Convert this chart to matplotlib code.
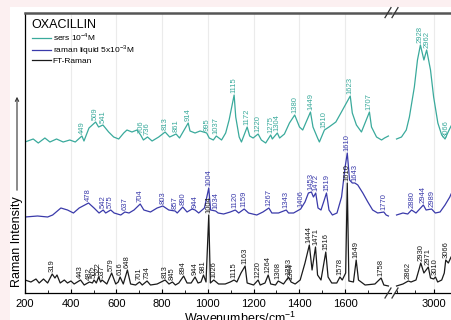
import numpy as np
import matplotlib
matplotlib.use("Agg")
import matplotlib.pyplot as plt
from matplotlib.patches import Rectangle, FancyArrowPatch
from matplotlib.lines import Line2D

plt.rcParams['font.family'] = ['Liberation Sans', 'DejaVu Sans']
plt.rcParams['mathtext.fontset'] = 'custom'
plt.rcParams['mathtext.rm'] = 'Liberation Sans'

# sers 10^-4 M (teal), low and high wavenumber parts
sers_w = [200, 236, 258, 287, 309, 338, 367, 396, 420, 449, 458, 480, 509, 522, 541, 566, 588, 610,
          632, 646, 668, 690, 706, 718, 736, 756, 785, 813, 833, 861, 876, 914, 922, 944, 966, 995,
          1006, 1024, 1037, 1060, 1078, 1093, 1115, 1122, 1137, 1147, 1172, 1183, 1198, 1220, 1234,
          1253, 1275, 1282, 1304, 1314, 1335, 1357, 1380, 1401, 1415, 1449, 1460, 1480, 1488, 1510,
          1530, 1560, 1582, 1623, 1632, 1650, 1672, 1707, 1716, 1738, 1760, 1773, 1790]
sers_i = [151, 154, 150, 155, 151, 154, 151, 153, 151, 157, 152, 165, 171, 166, 168, 161, 156, 154,
          160, 163, 161, 163, 158, 153, 156, 152, 156, 161, 156, 159, 155, 170, 162, 160, 162, 160,
          155, 153, 157, 153, 160, 173, 198, 176, 156, 151, 166, 157, 155, 159, 153,
          150, 158, 154, 160, 155, 159, 170, 178, 166, 163, 181, 166, 155, 151, 163,
          166, 171, 180, 197, 180, 168, 161, 181, 166, 156, 153, 155, 157]
sers_hw = [2798, 2825, 2851, 2868, 2895, 2912, 2928, 2947, 2962, 2983, 3000, 3023, 3044, 3062, 3079, 3095]
sers_hi = [154, 156, 163, 176, 206, 233, 248, 233, 243, 223, 196, 170, 158, 154, 161, 167]
sers_peaks = [449, 509, 541, 706, 736, 813, 861, 914, 995, 1037, 1115, 1172, 1220, 1275, 1304,
              1380, 1449, 1510, 1623, 1707]
sers_hpeaks = [2928, 2962, 3066]

# raman liquid 5x10^-3 M (blue)
liq_w = [200, 255, 299, 321, 357, 386, 412, 437, 478, 502, 524, 542, 553, 575, 590, 619, 637, 655,
         677, 704, 720, 749, 778, 803, 829, 857, 866, 890, 909, 931, 944, 960, 985, 1004, 1012, 1034,
         1045, 1069, 1098, 1120, 1135, 1159, 1178, 1214, 1241, 1267, 1280, 1309, 1343, 1353, 1375,
         1406, 1425, 1440, 1453, 1462, 1472, 1482, 1495, 1508, 1519, 1530, 1545, 1565, 1585, 1600,
         1610, 1620, 1632, 1643, 1656, 1678, 1700, 1721, 1743, 1770, 1780, 1790]
liq_i = [76, 77, 76, 78, 85, 83, 80, 85, 90, 85, 80, 83, 80, 83, 80, 78, 81, 80,
         83, 89, 83, 81, 85, 87, 83, 82, 80, 86, 81, 84, 83, 80, 85, 105, 83, 82,
         80, 79, 81, 83, 80, 84, 80, 78, 81, 85, 80, 80, 83, 80, 80,
         84, 91, 100, 101, 96, 100, 85, 83, 92, 100, 83, 78, 80, 96, 125,
         140, 113, 110, 110, 108, 100, 91, 83, 80, 81, 78, 77]
liq_hw = [2798, 2833, 2859, 2880, 2904, 2944, 2959, 2989, 3009, 3035, 3062, 3088, 3095]
liq_hi = [78, 80, 79, 83, 80, 88, 83, 84, 80, 81, 88, 96, 99]
liq_peaks = [478, 542, 575, 637, 704, 803, 857, 890, 944, 1004, 1034, 1120, 1159, 1267, 1343,
             1406, 1453, 1472, 1519, 1610, 1643, 1770]
liq_hpeaks = [2880, 2944, 2989]

# FT-Raman (black)
ft_w = [200, 226, 248, 262, 281, 299, 319, 331, 340, 354, 372, 386, 401, 415, 443, 459, 482, 495,
        502, 512, 522, 531, 537, 558, 579, 597, 608, 616, 630, 648, 662, 684, 701, 713, 734, 749,
        778, 813, 830, 845, 858, 873, 894, 909, 927, 944, 957, 970, 981, 992, 1004, 1011, 1026,
        1047, 1076, 1098, 1115, 1127, 1145, 1163, 1172, 1200, 1220, 1229, 1250, 1264, 1275, 1296,
        1308, 1331, 1353, 1364, 1382, 1404, 1425, 1444, 1456, 1471, 1480, 1495, 1516, 1526, 1542,
        1564, 1578, 1588, 1603, 1610, 1617, 1637, 1649, 1659, 1688, 1731, 1758, 1770, 1790]
ft_i = [13, 11, 14, 10, 14, 10, 19, 15, 18, 10, 13, 10, 12, 9, 13, 8, 11, 10,
        13, 10, 16, 11, 13, 9, 20, 9, 11, 16, 9, 23, 9, 8, 11, 8, 12, 8,
        9, 13, 9, 11, 8, 10, 17, 10, 10, 16, 10, 11, 18, 11, 78, 10, 13,
        9, 9, 11, 13, 11, 20, 27, 10, 8, 13, 8, 10, 18, 9, 8,
        12, 9, 16, 11, 9, 13, 30, 48, 23, 46, 18, 13, 41, 16, 10,
        10, 16, 13, 20, 110, 12, 11, 33, 13, 8, 9, 15, 8, 7]
ft_hw = [2798, 2833, 2862, 2877, 2904, 2918, 2930, 2947, 2971, 2983, 3000, 3010, 3022, 3044, 3058, 3066, 3080, 3095]
ft_hi = [7, 9, 12, 11, 13, 22, 30, 20, 26, 15, 14, 16, 11, 13, 20, 33, 30, 36]
ft_peaks = [319, 443, 482, 502, 522, 537, 579, 616, 648, 701, 734, 813, 845, 894, 944, 981, 1004,
            1026, 1115, 1163, 1220, 1264, 1308, 1353, 1364, 1444, 1471, 1516, 1578, 1610, 1649, 1758]
ft_hpeaks = [2862, 2930, 2971, 3010, 3066]

c_sers = '#3aaa9c'
c_liq = '#3a3aaa'
c_ft = '#1a1a1a'
PINK = '#fcf0f1'

W, H = 452, 320
fig = plt.figure(figsize=(W / 100, H / 100), dpi=100, facecolor=PINK)
fig.add_artist(Rectangle((10 / W, 0), 1, 1 - 7 / H, transform=fig.transFigure,
                         facecolor='white', edgecolor='none', zorder=-5))

axL = fig.add_axes([25 / W, 27 / H, 365.7 / W, 280.4 / H])
axR = fig.add_axes([394 / W, 27 / H, 58 / W, 280.4 / H])


def label_peaks(ax, w, i, peaks, color):
    w = np.asarray(w)
    i = np.asarray(i)
    for p in peaks:
        m = (w >= p - 8) & (w <= p + 8)
        top = i[m].max() if m.any() else np.interp(p, w, i)
        ax.annotate(str(p), (p, top), xytext=(0, 1.5), textcoords='offset points',
                    rotation=90, ha='center', va='bottom', fontsize=5.5, color=color,
                    annotation_clip=False)


lines = []
for ax, parts in [(axL, [(sers_w, sers_i, sers_peaks, c_sers), (liq_w, liq_i, liq_peaks, c_liq),
                         (ft_w, ft_i, ft_peaks, c_ft)]),
                  (axR, [(sers_hw, sers_hi, sers_hpeaks, c_sers), (liq_hw, liq_hi, liq_hpeaks, c_liq),
                         (ft_hw, ft_hi, ft_hpeaks, c_ft)])]:
    for w, i, pk, c in parts:
        ln, = ax.plot(w, i, color=c, lw=0.9)
        if ax is axL:
            lines.append(ln)
        label_peaks(ax, w, i, pk, c)
    ax.set_ylim(0, 280.4)
    ax.set_yticks([])
    ax.spines['right'].set_visible(False)
    ax.spines['top'].set_color('#555555')
    ax.spines['top'].set_linewidth(1.8)
    ax.spines['bottom'].set_linewidth(0.9)
    ax.tick_params(axis='x', direction='in', length=3, labelsize=8, pad=4)
    ax.tick_params(axis='x', which='minor', direction='in', length=2)
    ax.grid(axis='x', color='#ebebeb', lw=0.8)
    ax.set_axisbelow(True)

axL.set_xlim(200, 1800)
axL.set_xticks(range(200, 1601, 200))
axL.set_xticks(range(300, 1800, 100), minor=True)
axL.spines['left'].set_linewidth(0.9)

axR.set_xlim(3000 - 41 / 0.19, 3000 + 17 / 0.19)
axR.set_xticks([3000])
axR.set_xticks([2800, 2900, 3100], minor=True)
axR.spines['left'].set_visible(False)

leg = axL.legend(lines, ['sers 10$^{\\mathregular{-4}}$M', 'raman liquid 5x10$^{\\mathregular{-3}}$M', 'FT-Raman'],
                 title='OXACILLIN', title_fontsize=9, fontsize=6, loc='upper left',
                 bbox_to_anchor=(0.005, 0.995), frameon=False, handlelength=2.3,
                 handletextpad=0.2, labelspacing=0.02, borderaxespad=0.2, alignment='left')

# y label with arrow
fig.text(17 / W, 1 - 242 / H, 'Raman Intensity', rotation=90, ha='center', va='center', fontsize=9)
fig.add_artist(FancyArrowPatch((17 / W, 1 - 193 / H), (17 / W, 1 - 94 / H),
                               transform=fig.transFigure, arrowstyle='->',
                               mutation_scale=6, lw=0.8, color='#333333'))
fig.text(240 / W, 1 - 311 / H, 'Wavenumbers/cm$^{\\mathregular{-1}}$', ha='center', va='top', fontsize=9)

# axis break marks
for yb in (293, 12.6):
    for xb in (388, 395):
        fig.add_artist(Line2D([(xb - 3) / W, (xb + 3) / W], [1 - (yb + 5) / H, 1 - (yb - 5) / H],
                              transform=fig.transFigure, color='#333333', lw=0.9))

fig.savefig('out.png', dpi=100, facecolor=PINK)
